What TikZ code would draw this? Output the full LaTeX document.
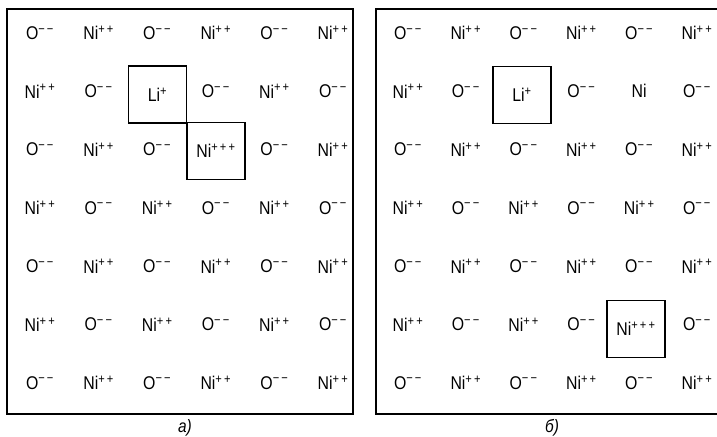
\documentclass[tikz,border=0pt]{standalone}
\usepackage{fontspec}
\setmainfont{Liberation Sans}[FakeStretch=0.86]
\usetikzlibrary{positioning, calc}
\newcommand{\oxy}{O\textsuperscript{−\,−}}
\newcommand{\nii}{Ni\textsuperscript{+\,+}}
\tikzset{
    ion/.style={font=\fontsize{18.5}{20}\selectfont, inner sep=0pt},
    defect/.style={ion, draw, line width=1.2pt, minimum width=58bp, minimum height=57bp},
    frame/.style={draw, line width=1.4pt},
    caption/.style={font=\fontsize{18}{20}\selectfont\itshape, inner sep=0pt}
}

\begin{document}
\begin{tikzpicture}[x=1bp, y=-1bp]
        \useasboundingbox (0,0) rectangle (717,437);
        \clip (0,0) rectangle (717,437);

        % Panel a: Li+ next to Ni+++
        \draw[frame] (7,9) rectangle (353,414);
        \foreach \r in {1,...,7}
          \foreach \c in {1,...,6} {
            \pgfmathtruncatemacro{\s}{mod(\r+\c,2)}
            \ifnum\s=0 \def\txt{\oxy}\else\def\txt{\nii}\fi
            \ifnum\r\c=23 \def\txt{}\fi
            \ifnum\r\c=34 \def\txt{}\fi
            \node[ion] (a-\r-\c) at ({40+58.6*(\c-1)}, {33+58.3*(\r-1)}) {\txt};
          }
        \node[defect] (a-li) at (157.5, 94.5) {Li\textsuperscript{+}};
        \node[defect] (a-ni) at (216, 151) {Ni\textsuperscript{+\,+\,+}};
        \node[caption] (a-cap) at (185, 428) {а)};

        % Panel b: Li+ and Ni+++ apart
        \draw[frame] (376,9) rectangle (740,414);
        \foreach \r in {1,...,7}
          \foreach \c in {1,...,6} {
            \pgfmathtruncatemacro{\s}{mod(\r+\c,2)}
            \ifnum\s=0 \def\txt{\oxy}\else\def\txt{\nii}\fi
            \ifnum\r\c=23 \def\txt{}\fi
            \ifnum\r\c=25 \def\txt{Ni}\fi
            \ifnum\r\c=65 \def\txt{}\fi
            \node[ion] (b-\r-\c) at ({408+57.8*(\c-1)}, {33+58.3*(\r-1)}) {\txt};
          }
        \node[defect] (b-li) at (522, 95) {Li\textsuperscript{+}};
        \node[defect] (b-ni) at (636, 329) {Ni\textsuperscript{+\,+\,+}};
        \node[caption] (b-cap) at (552, 428) {б)};
\end{tikzpicture}
\end{document}
